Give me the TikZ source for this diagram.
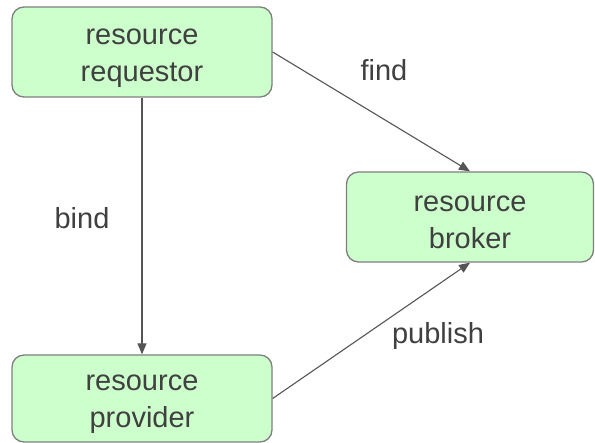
\documentclass[tikz,border=0pt]{standalone}
\usepackage{fontspec}
\setmainfont{Liberation Sans}
\usetikzlibrary{arrows.meta}
\definecolor{boxfill}{HTML}{CCFFCC}
\definecolor{boxline}{HTML}{7F7F7F}
\definecolor{inktext}{HTML}{404040}
\definecolor{linkline}{HTML}{555555}
\begin{document}
\begin{tikzpicture}[x=1pt,y=-1pt,
  rolebox/.style={draw=boxline, line width=1.3pt, fill=boxfill, rounded corners=12pt,
    inner sep=0pt},
  roletext/.style={text=inktext, align=center, inner sep=0pt,
    font=\fontsize{29}{37}\selectfont},
  link/.style={draw=linkline, line width=1.1pt,
    -{Triangle[length=11pt,width=9pt]}},
  linklabel/.style={text=inktext, font=\fontsize{29}{37}\selectfont, inner sep=0pt}]
  \useasboundingbox (0,0) rectangle (595,443);
  % the three parties
  \node[rolebox, minimum width=260pt, minimum height=90pt] (req) at (142,52) {};
  \node[rolebox, minimum width=247pt, minimum height=90pt] (bro) at (470,217) {};
  \node[rolebox, minimum width=260pt, minimum height=87pt] (pro) at (142,398.5) {};
  \node[roletext] (reqtext) at ([yshift=-6pt]req.center) {resource\\requestor};
  \node[roletext] (brotext) at ([yshift=-5pt]bro.center) {resource\\broker};
  \node[roletext] (protext) at ([yshift=-6pt]pro.center) {resource\\provider};
  % interactions between them
  \draw[link] (req.east) -- (bro.north);
  \draw[link] (req.south) -- (pro.north);
  \draw[link] (pro.east) -- (bro.south);
  \node[linklabel] (findlbl) at (384,70) {find};
  \node[linklabel] (bindlbl) at (82,218) {bind};
  \node[linklabel] (publbl) at (438,336) {publish};
\end{tikzpicture}
\end{document}
